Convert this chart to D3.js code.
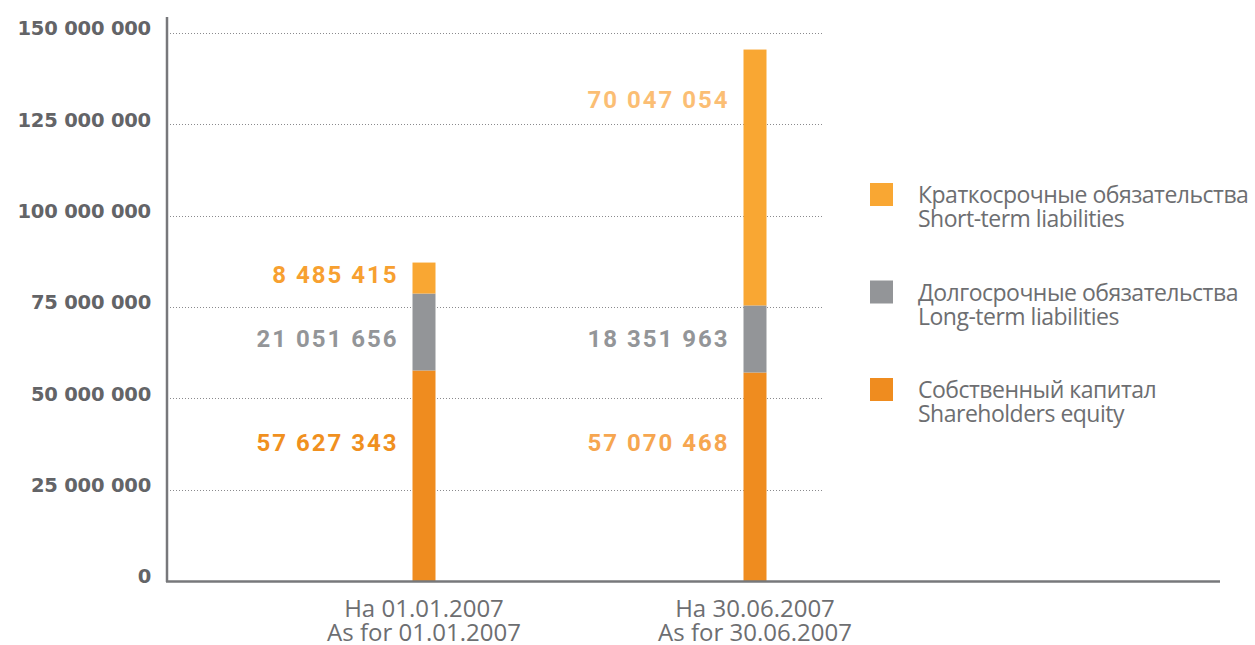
<!DOCTYPE html>
<html><head><meta charset="utf-8">
<script src="https://cdn.jsdelivr.net/npm/d3@7"></script>
<style>body{margin:0;background:#fff}svg{display:block}</style>
</head><body>
<svg id="c" width="1255" height="645"></svg>
<script>
// ---- data ----
const categories = ["01.01.2007", "30.06.2007"];
const catLinesRu = ["На 01.01.2007", "На 30.06.2007"];
const catLinesEn = ["As for 01.01.2007", "As for 30.06.2007"];
const seriesKeys = ["equity", "longTerm", "shortTerm"];
const equity    = [57627343, 57070468];
const longTerm  = [21051656, 18351963];
const shortTerm = [8485415, 70047054];
const tickValues = [0, 25000000, 50000000, 75000000, 100000000, 125000000, 150000000];
const tickLabels = ["0", "25 000 000", "50 000 000", "75 000 000", "100 000 000", "125 000 000", "150 000 000"];
// value-label anchor levels (data units) as placed in the original
const labelLevelEquity = [38000000, 38000000];
const labelLevelLong   = [66500000, 66500000];
const labelLevelShort  = [83800000, 131700000];
const legendRu = ["Краткосрочные обязательства", "Долгосрочные обязательства", "Собственный капитал"];
const legendEn = ["Short-term liabilities", "Long-term liabilities", "Shareholders equity"];

const colors = {equity: "#ef8c1f", longTerm: "#939598", shortTerm: "#f9a733"};
const labelColors = {
  equity: ["#f0901e", "#f6a650"],
  longTerm: ["#939598", "#939598"],
  shortTerm: ["#f7a030", "#fbbe74"]
};
const gray = "#6d6e71";

const svg = d3.select("#c");
const x0 = 167, xEnd = 1220, gridEnd = 823;
const y = d3.scaleLinear().domain([0, 150000000]).range([581, 33]);
const xBand = d3.scalePoint().domain(categories).range([424, 755]);
const barW = 23;

// gridlines
svg.append("g").selectAll("line").data(tickValues.filter(v => v > 0)).join("line")
  .attr("x1", x0 + 3).attr("x2", gridEnd)
  .attr("y1", d => Math.round(y(d)) + 0.5).attr("y2", d => Math.round(y(d)) + 0.5)
  .attr("stroke", "#8a8a8d").attr("stroke-width", 1).attr("stroke-dasharray", "1,2");

// y axis
const yAxis = d3.axisLeft(y).tickValues(tickValues).tickSize(0).tickPadding(16)
  .tickFormat((d, i) => tickLabels[i]);
const ya = svg.append("g").attr("transform", `translate(${x0},0)`).call(yAxis);
ya.select(".domain").remove();
ya.selectAll("text").attr("fill", "#636467").attr("font-family", "DejaVu Sans")
  .attr("font-weight", "bold").attr("font-size", 19.5).attr("dy", "0.1em")
  .attr("letter-spacing", -0.2);
svg.append("line").attr("x1", x0).attr("x2", x0).attr("y1", 17).attr("y2", 582)
  .attr("stroke", "#77787b").attr("stroke-width", 2.5);

// stacked bars
const rows = categories.map((c, i) => ({cat: c, equity: equity[i], longTerm: longTerm[i], shortTerm: shortTerm[i]}));
const stack = d3.stack().keys(seriesKeys)(rows);
svg.append("g").selectAll("g").data(stack).join("g")
  .attr("fill", d => colors[d.key])
  .selectAll("rect").data(d => d).join("rect")
  .attr("x", d => xBand(d.data.cat) - barW / 2)
  .attr("width", barW)
  .attr("y", d => y(d[1]))
  .attr("height", d => y(d[0]) - y(d[1]));

// baseline
svg.append("line").attr("x1", x0 - 1).attr("x2", xEnd).attr("y1", 581.5).attr("y2", 581.5)
  .attr("stroke", "#77787b").attr("stroke-width", 2.5);

// value labels
const fmt = v => d3.format(",")(v).replace(/,/g, " ");
const labelSets = [
  {key: "equity", vals: equity, lv: labelLevelEquity},
  {key: "longTerm", vals: longTerm, lv: labelLevelLong},
  {key: "shortTerm", vals: shortTerm, lv: labelLevelShort}
];
labelSets.forEach(s => {
  svg.append("g").selectAll("text").data(s.vals).join("text")
    .attr("x", (d, i) => xBand(categories[i]) - barW / 2 - 14)
    .attr("y", (d, i) => y(s.lv[i]))
    .attr("dy", "0.36em")
    .attr("text-anchor", "end")
    .attr("font-family", "Roboto").attr("font-weight", "bold").attr("font-size", 24)
    .attr("letter-spacing", 2)
    .attr("fill", (d, i) => labelColors[s.key][i])
    .text(d => fmt(d));
});

// category labels
const cx = svg.append("g").selectAll("g").data(categories).join("g")
  .attr("transform", d => `translate(${xBand(d)},0)`);
cx.append("text").attr("y", 617).attr("text-anchor", "middle")
  .attr("font-family", "Open Sans").attr("font-size", 24).attr("fill", gray)
  .attr("letter-spacing", 0)
  .text((d, i) => catLinesRu[i]);
cx.append("text").attr("y", 641).attr("text-anchor", "middle")
  .attr("font-family", "Open Sans").attr("font-size", 24).attr("fill", gray)
  .attr("letter-spacing", 0)
  .text((d, i) => catLinesEn[i]);

// legend
const legKeys = ["shortTerm", "longTerm", "equity"];
const lg = svg.append("g").selectAll("g").data(legKeys).join("g")
  .attr("transform", (d, i) => `translate(870,${183 + i * 97.5})`);
lg.append("rect").attr("width", 23).attr("height", 23).attr("fill", d => colors[d]);
lg.append("text").attr("x", 48).attr("y", 20).attr("font-family", "Open Sans")
  .attr("font-size", 23).attr("fill", gray).attr("letter-spacing", -0.5)
  .text((d, i) => legendRu[i]);
lg.append("text").attr("x", 48).attr("y", 44).attr("font-family", "Open Sans")
  .attr("font-size", 23).attr("fill", gray).attr("letter-spacing", -0.5)
  .text((d, i) => legendEn[i]);
</script>
</body></html>
